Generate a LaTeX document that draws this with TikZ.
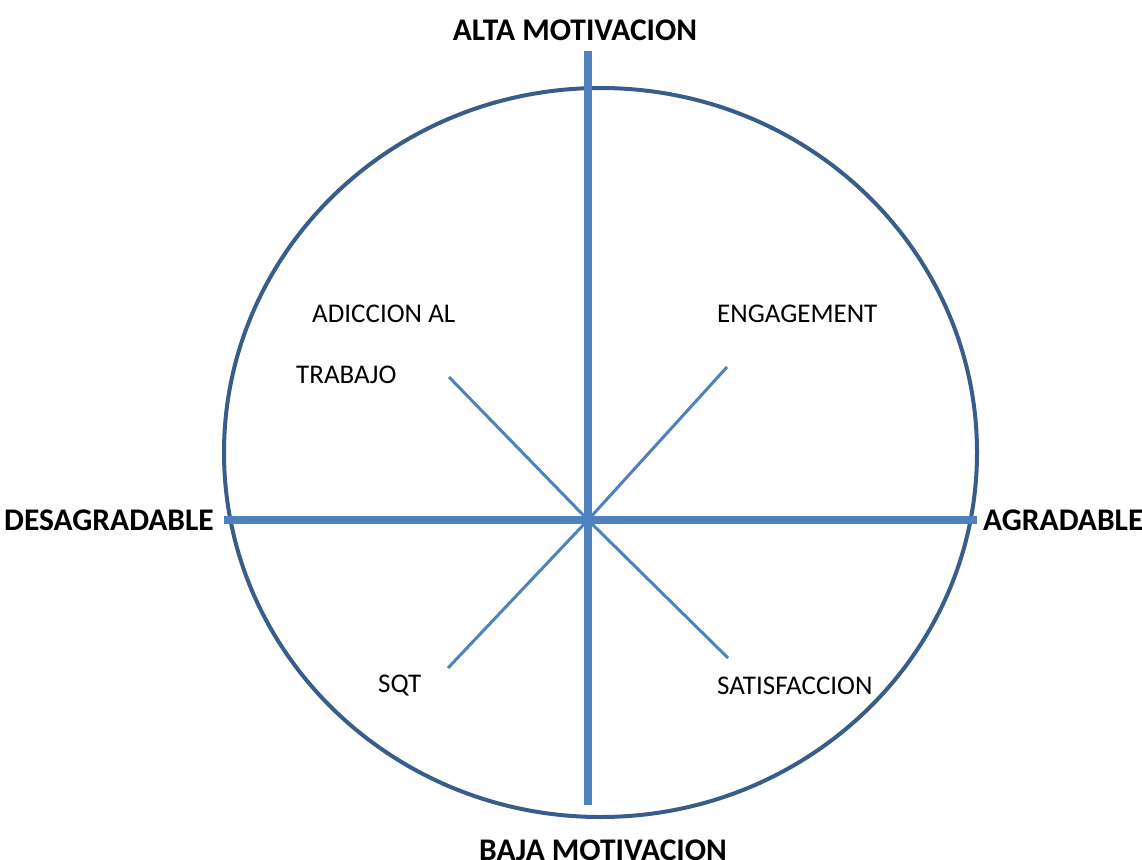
\documentclass[tikz,border=0pt]{standalone}
\usepackage{fontspec}
\setmainfont{Carlito}
\usepackage{tikz}

\definecolor{axisblue}{RGB}{79,129,189}
\definecolor{ringblue}{RGB}{56,93,138}

\begin{document}
\begin{tikzpicture}[x=1pt, y=-1pt,
	axis/.style = {draw=axisblue, line width=7.5pt},
	diag/.style = {draw=axisblue, line width=3pt},
	pole/.style = {font=\fontsize{31.5}{37}\selectfont\bfseries, inner sep=0pt},
	item/.style = {font=\fontsize{27}{32}\selectfont, inner sep=0pt}]
	\useasboundingbox (0,0) rectangle (1142,859);
	% the ring
	\draw[ringblue, line width=4pt] (600.5,452.5) ellipse [x radius=376.5, y radius=364.5];
	% centre and ends of the axes
	\coordinate (o) at (588,520);
	\coordinate (top) at (588,51);
	\coordinate (bot) at (588,805);
	\coordinate (lft) at (224,520);
	\coordinate (rgt) at (977,520);
	\coordinate (ne) at (727,367);
	\coordinate (nw) at (449,377);
	\coordinate (sw) at (448,668);
	\coordinate (se) at (728,658);
	% labels
	\node[pole] (alta) at (575,30) {ALTA MOTIVACION};
	\node[pole] (baja) at (603,850) {BAJA MOTIVACION};
	\node[pole, anchor=east] (desag) at (214,520) {DESAGRADABLE};
	\node[pole, anchor=west] (agrad) at (983,520) {AGRADABLE};
	\node[item, anchor=west] (adic) at (312,314) {ADICCION AL};
	\node[item, anchor=west] (trab) at (296,375) {TRABAJO};
	\node[item, anchor=west] (eng) at (717,314) {ENGAGEMENT};
	\node[item, anchor=west] (sqt) at (378,686) {SQT};
	\node[item, anchor=west] (sat) at (717,686) {SATISFACCION};
	% the lines
	\draw[diag] (o) -- (ne);
	\draw[diag] (o) -- (nw);
	\draw[diag] (o) -- (sw);
	\draw[diag] (o) -- (se);
	\draw[axis] (lft) -- (rgt);
	\draw[axis] (top) -- (bot);
\end{tikzpicture}
\end{document}
